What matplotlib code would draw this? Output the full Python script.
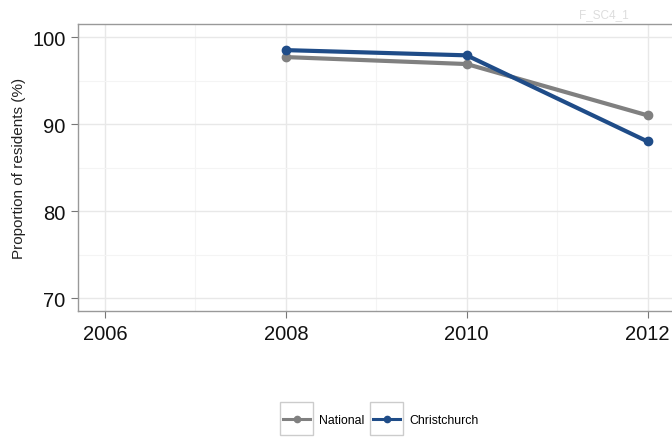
import matplotlib
matplotlib.use('Agg')
import matplotlib.pyplot as plt
from matplotlib.patches import Rectangle

plt.rcParams['font.family'] = ['Liberation Sans', 'DejaVu Sans']

# Data
years = [2008, 2010, 2012]
national = [97.7, 96.9, 91.0]
christchurch = [98.5, 97.9, 88.0]
x_ticks = [2006, 2008, 2010, 2012]
y_ticks = [70, 80, 90, 100]

grey = '#808080'
blue = '#1F4C88'

fig = plt.figure(figsize=(6.72, 4.39), dpi=100)
ax = fig.add_axes([0.116, 0.289, 0.888, 0.654])

ax.plot(years, national, color=grey, lw=3, marker='o', ms=6, label='National', zorder=3)
ax.plot(years, christchurch, color=blue, lw=3, marker='o', ms=6, label='Christchurch', zorder=4)

ax.set_xlim(2005.7, 2012.3)
ax.set_ylim(68.5, 101.5)
ax.set_xticks(x_ticks)
ax.set_yticks(y_ticks)
ax.set_xticks([2007, 2009, 2011], minor=True)
ax.set_yticks([75, 85, 95], minor=True)
ax.grid(True, which='major', color='#E8E8E8', lw=1)
ax.grid(True, which='minor', color='#F4F4F4', lw=0.8)
ax.set_axisbelow(True)
ax.tick_params(which='minor', length=0)
ax.tick_params(which='major', length=5, color='#777777', labelsize=14.5, labelcolor='#111111', pad=4)
for s in ax.spines.values():
    s.set_color('#999999')
    s.set_linewidth(1)

ax.set_ylabel('Proportion of residents (%)', fontsize=11, color='#222222', labelpad=4.5)

fig.text(0.862, 0.965, 'F_SC4_1', fontsize=8.5, color='#DDDDDD', ha='left', va='center')

leg = fig.legend(loc='center', bbox_to_anchor=(0.567, 1 - 421 / 439), ncol=2, frameon=False,
                 fontsize=8.8, handlelength=2.2, columnspacing=0.7, handletextpad=0.75)
for h in leg.legend_handles:
    h.set_linewidth(2.2)
    h.set_markersize(4.5)
fig.canvas.draw()
inv = fig.transFigure.inverted()
for h in leg.legend_handles:
    bb = h.get_window_extent()
    cx = (bb.x0 + bb.x1) / 2
    cy = (bb.y0 + bb.y1) / 2
    (x0, y0), (x1, y1) = inv.transform([(cx - 16.5, cy - 16.5), (cx + 16.5, cy + 16.5)])
    fig.patches.append(Rectangle((x0, y0), x1 - x0, y1 - y0, transform=fig.transFigure,
                                 fill=False, edgecolor='#CCCCCC', lw=1))

fig.savefig('out.png', dpi=100)
